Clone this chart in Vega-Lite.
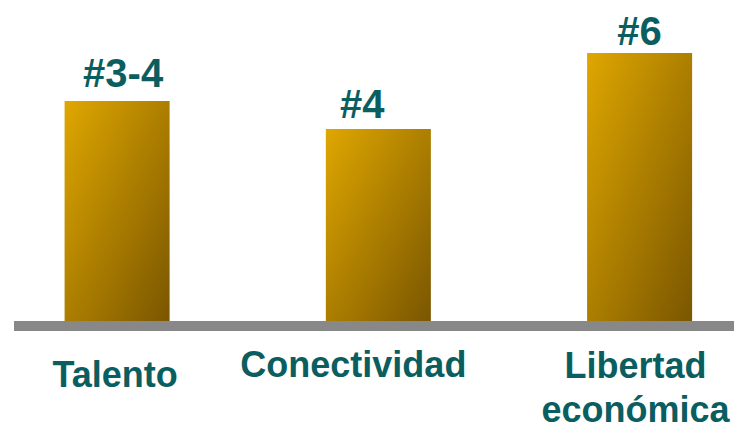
{
  "$schema": "https://vega.github.io/schema/vega-lite/v6.json",
  "width": 720,
  "height": 426,
  "autosize": "none",
  "padding": {"left": 14, "top": 0, "right": 0, "bottom": 0},
  "background": "white",
  "config": {"view": {"stroke": null}, "text": {"font": "Liberation Sans", "fontWeight": "bold", "color": "#0B5E5F"}},
  "data": {"values": [
    {"cat": "Talento", "value": 220, "rank": "#3-4"},
    {"cat": "Conectividad", "value": 192, "rank": "#4"},
    {"cat": "Libertad económica", "value": 268, "rank": "#6"}
  ]},
  "encoding": {
    "x": {"field": "cat", "type": "nominal", "sort": null, "axis": null,
          "scale": {"paddingInner": 0.598, "paddingOuter": 0.177, "align": 0.547}},
    "y": {"field": "value", "type": "quantitative", "axis": null,
          "scale": {"domain": [-105, 321], "nice": false, "zero": false}}
  },
  "layer": [
    {"mark": {"type": "bar", "color": {"gradient": "linear", "x1": 0, "y1": 0, "x2": 1, "y2": 1,
      "stops": [{"offset": 0, "color": "#DFA700"}, {"offset": 1, "color": "#7A5600"}]}}},
    {"mark": {"type": "rule", "color": "#888888", "strokeWidth": 10},
     "encoding": {"x": null, "y": {"datum": -5, "type": "quantitative"}}},
    {"transform": [{"filter": "datum.cat === 'Talento'"}],
     "mark": {"type": "text", "fontSize": 40, "baseline": "alphabetic", "dx": 6, "dy": -14},
     "encoding": {"text": {"field": "rank"}}},
    {"transform": [{"filter": "datum.cat === 'Conectividad'"}],
     "mark": {"type": "text", "fontSize": 40, "baseline": "alphabetic", "dx": -16, "dy": -11},
     "encoding": {"text": {"field": "rank"}}},
    {"transform": [{"filter": "datum.cat === 'Libertad económica'"}],
     "mark": {"type": "text", "fontSize": 40, "baseline": "alphabetic", "dx": 0, "dy": -8},
     "encoding": {"text": {"field": "rank"}}},
    {"transform": [{"filter": "datum.cat === 'Talento'"}],
     "mark": {"type": "text", "fontSize": 36, "baseline": "alphabetic", "dx": -2},
     "encoding": {"y": {"datum": -66, "type": "quantitative"}, "text": {"field": "cat"}}},
    {"transform": [{"filter": "datum.cat === 'Conectividad'"}],
     "mark": {"type": "text", "fontSize": 36, "baseline": "alphabetic", "dx": -25},
     "encoding": {"y": {"datum": -56, "type": "quantitative"}, "text": {"field": "cat"}}},
    {"transform": [{"filter": "datum.cat === 'Libertad económica'"}],
     "mark": {"type": "text", "fontSize": 36, "baseline": "alphabetic", "dx": -4, "lineBreak": " ", "lineHeight": 44},
     "encoding": {"y": {"datum": -57, "type": "quantitative"}, "text": {"field": "cat"}}}
  ]
}
